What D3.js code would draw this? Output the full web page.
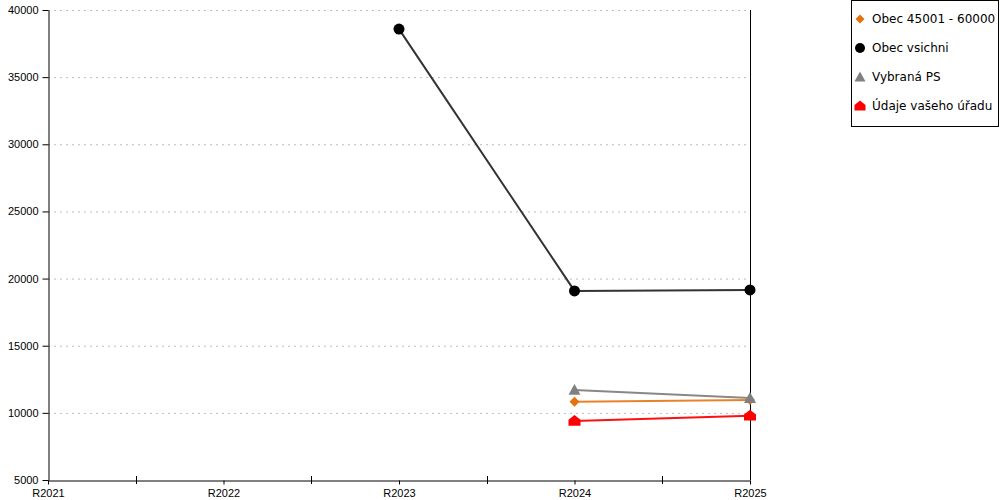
<!DOCTYPE html>
<html><head><meta charset="utf-8">
<script src="https://cdn.jsdelivr.net/npm/d3@7"></script>
<style>body{margin:0;background:#fff}svg{display:block;font-family:"DejaVu Sans",sans-serif}</style>
</head><body><svg id="c" width="1000" height="500"></svg>
<script>
const categories = ["R2021","R2022","R2023","R2024","R2025"];
const yTicks = [5000,10000,15000,20000,25000,30000,35000,40000];
const seriesNames = ["Obec 45001 - 60000","Obec vsichni","Vybraná PS","Údaje vašeho úřadu"];
const seriesColors = ["#e3730f","#000000","#808080","#ff0000"];
const lineColors = ["#e8822a","#333333","#888888","#ff1010"];
const seriesShapes = ["diamond","circle","triangle","house"];
const obec45001 = [null,null,null,10830,10950];
const obecVsichni = [null,null,38580,19080,19150];
const vybranaPS = [null,null,null,11700,11100];
const udajeUradu = [null,null,null,9400,9780];
const seriesValues = [obec45001,obecVsichni,vybranaPS,udajeUradu];

const svg = d3.select("#c");
const x = d3.scalePoint().domain(categories).range([48,750]);
const y = d3.scaleLinear().domain([5000,40000]).range([480,10]);

// grid
svg.append("g").selectAll("line").data(yTicks.slice(1)).join("line")
  .attr("x1",48).attr("x2",750).attr("y1",d=>y(d)+0.5).attr("y2",d=>y(d)+0.5)
  .attr("stroke","#bbb").attr("stroke-dasharray","2,4");

// y axis
const ya = svg.append("g").attr("transform","translate(48.5,0)")
  .call(d3.axisLeft(y).tickValues(yTicks).tickFormat(d3.format("d")).tickSize(6).tickSizeOuter(0));
ya.select(".domain").attr("stroke","#000");
ya.selectAll("text").attr("font-size","11px").attr("fill","#000").attr("x",-10);

// x axis
const xa = svg.append("g").attr("transform","translate(0,480.5)")
  .call(d3.axisBottom(x).tickSize(4).tickSizeOuter(0));
xa.select(".domain").attr("stroke","#000");
xa.selectAll("text").attr("font-size","11px").attr("fill","#000").attr("dy","0.9em");
// half ticks
const step = x.step();
svg.append("g").selectAll("line").data(categories.slice(0,-1)).join("line")
  .attr("x1",d=>Math.round(x(d)+step/2)+0.5).attr("x2",d=>Math.round(x(d)+step/2)+0.5)
  .attr("y1",476).attr("y2",484).attr("stroke","#000");
// right line
svg.append("line").attr("x1",750.5).attr("x2",750.5).attr("y1",10).attr("y2",480).attr("stroke","#000");

function shapePath(s, r){
  if(s==="diamond") return `M0,${-r}L${r},0L0,${r}L${-r},0Z`;
  if(s==="circle") return d3.symbol().type(d3.symbolCircle).size(Math.PI*r*r)();
  if(s==="triangle") return `M0,${-r}L${r},${r*0.8}L${-r},${r*0.8}Z`;
  return `M0,${-r}L${r},${-r*0.2}L${r},${r*0.8}L${-r},${r*0.8}L${-r},${-r*0.2}Z`;
}
const radii = {diamond:5,circle:5.5,triangle:6,house:6};

seriesValues.forEach((vals,i)=>{
  const pts = categories.map((c,j)=>({c,v:vals[j]})).filter(p=>p.v!=null);
  svg.append("path").datum(pts)
    .attr("d",d3.line().x(p=>x(p.c)).y(p=>y(p.v)))
    .attr("fill","none").attr("stroke",lineColors[i]).attr("stroke-width",2);
});
seriesValues.forEach((vals,i)=>{
  const pts = categories.map((c,j)=>({c,v:vals[j]})).filter(p=>p.v!=null);
  svg.append("g").selectAll("path").data(pts).join("path")
    .attr("transform",p=>`translate(${x(p.c)},${y(p.v)})`)
    .attr("d",shapePath(seriesShapes[i],radii[seriesShapes[i]]))
    .attr("fill",seriesColors[i]);
});

// legend
const lg = svg.append("g");
lg.append("rect").attr("x",851.5).attr("y",0.5).attr("width",147).attr("height",126)
  .attr("fill","#fff").attr("stroke","#000");
seriesNames.forEach((n,i)=>{
  const cy = 19 + i*29;
  const s = seriesShapes[i];
  lg.append("path").attr("transform",`translate(860,${cy})`)
    .attr("d",shapePath(s,s==="circle"?5:s==="diamond"?4.5:5.5)).attr("fill",seriesColors[i]);
  lg.append("text").attr("x",872).attr("y",cy+4).attr("font-size","12px").text(n);
});
</script></body></html>
